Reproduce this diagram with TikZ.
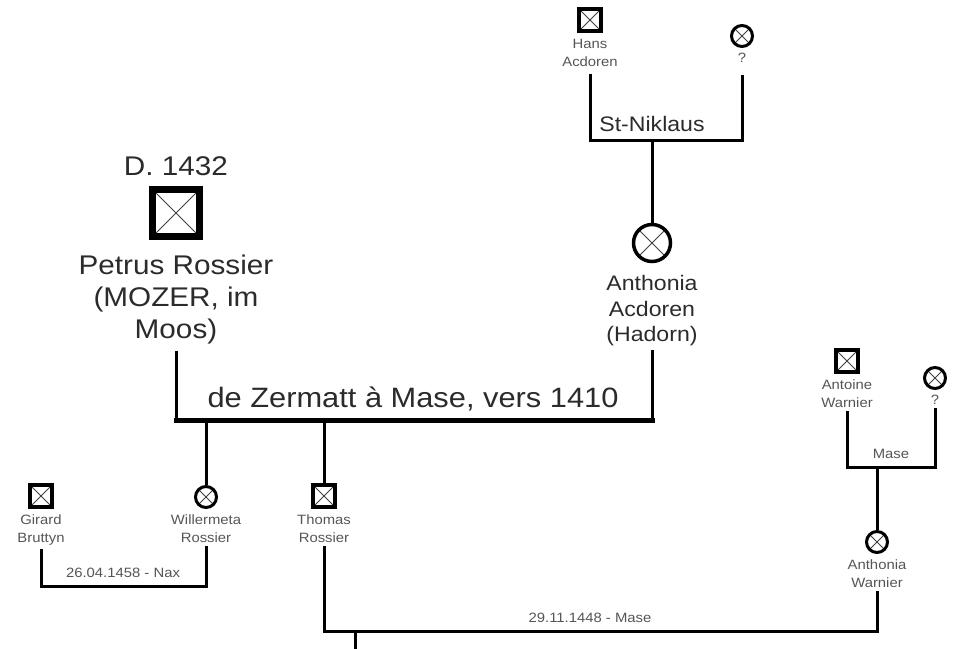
\documentclass[tikz,border=0pt]{standalone}
\usepackage{fontspec}
\setmainfont[FakeStretch=1.1]{Liberation Sans}
\usetikzlibrary{positioning}
\definecolor{lbltext}{HTML}{555555}
\definecolor{bigtext}{HTML}{2B2B2B}

\begin{document}
\begin{tikzpicture}[x=1pt, y=-1pt,
    cross/.style={path picture={\draw[line width=0.8pt, black!75]
        (path picture bounding box.south west) -- (path picture bounding box.north east)
        (path picture bounding box.north west) -- (path picture bounding box.south east);}},
    male/.style={draw, cross, line width=3.8pt, minimum size=22pt, inner sep=0pt},
    malebig/.style={male, line width=6.5pt, minimum size=47pt},
    female/.style={draw, circle, cross, line width=3pt, minimum size=21pt, inner sep=0pt},
    femalebig/.style={female, line width=3.5pt, minimum size=37pt},
    who/.style={align=center, text=lbltext, inner xsep=0pt, inner ysep=3pt,
        font=\fontsize{13.5}{18}\selectfont},
    whomid/.style={align=center, text=bigtext, inner xsep=0pt, inner ysep=4pt,
        font=\fontsize{21}{25.5}\selectfont},
    whobig/.style={align=center, text=bigtext, inner xsep=0pt, inner ysep=7pt,
        font=\fontsize{27}{32}\selectfont},
    place/.style={anchor=base, text=lbltext, font=\fontsize{13.5}{18}\selectfont},
    placemid/.style={anchor=base, text=bigtext, font=\fontsize{21}{25}\selectfont},
    placebig/.style={anchor=base, text=bigtext, font=\fontsize{27}{32}\selectfont},
    link/.style={line width=3pt},
    bus/.style={line width=5pt, line cap=rect}]
    \useasboundingbox (0,0) rectangle (957,648);

    % parents of Anthonia Acdoren
    \node[male] (hans) at (590,20) {};
    \node[who, below=3pt of hans] (hanslbl) {Hans\\Acdoren};
    \node[female] (hansw) at (742,36) {};
    \node[who, below=2pt of hansw] (hanswlbl) {?};
    \coordinate (niklaus) at (652,140);
    \node[placemid] (niklauslbl) at (652,131) {St-Niklaus};
    \draw[link, shorten <=4pt, shorten >=9pt] (hanslbl.south) |- (niklaus) -| (hanswlbl.south);

    % Petrus and Anthonia
    \node[placebig] (death) at (176,175) {D. 1432};
    \node[malebig] (petrus) at (176,213) {};
    \node[whobig, below=8pt of petrus] (petruslbl) {Petrus Rossier\\(MOZER, im\\Moos)};
    \node[femalebig] (anthacd) at (652,243) {};
    \node[whomid, below=8pt of anthacd] (anthacdlbl) {Anthonia\\Acdoren\\(Hadorn)};
    \draw[link] (niklaus) -- (anthacd);

    \coordinate (zermatt) at (413,420);
    \node[placebig, font=\fontsize{28}{32}\selectfont] (zermattlbl) at (413,407) {de Zermatt à Mase, vers 1410};
    \draw[link] (petruslbl.south) -- (petruslbl.south |- zermatt);
    \draw[link] (anthacdlbl.south) -- (anthacdlbl.south |- zermatt);
    \draw[bus] (petruslbl.south |- zermatt) -- (anthacdlbl.south |- zermatt);

    % children
    \node[female] (willer) at (206,497) {};
    \node[who, below=3pt of willer] (willerlbl) {Willermeta\\Rossier};
    \node[male] (thomas) at (324,496) {};
    \node[who, below=3pt of thomas] (thomaslbl) {Thomas\\Rossier};
    \draw[link] (willer |- zermatt) -- (willer);
    \draw[link] (thomas |- zermatt) -- (thomas);

    % Willermeta x Girard
    \node[male] (girard) at (41,496) {};
    \node[who, below=3pt of girard] (girardlbl) {Girard\\Bruttyn};
    \coordinate (nax) at (123,586);
    \node[place] (naxlbl) at (123,577) {26.04.1458 - Nax};
    \draw[link] (girardlbl.south) |- (nax) -| (willerlbl.south);

    % parents of Anthonia Warnier
    \node[male] (antoine) at (847,361) {};
    \node[who, below=3pt of antoine] (antoinelbl) {Antoine\\Warnier};
    \node[female] (antoinew) at (935,378) {};
    \node[who, below=2pt of antoinew] (antoinewlbl) {?};
    \coordinate (mase) at (877,467);
    \node[place] (maselbl) at (891,458) {Mase};
    \draw[link] (antoinelbl.south) |- (mase) -| (antoinewlbl.south);
    \node[female] (anthw) at (877,542) {};
    \node[who, below=3pt of anthw] (anthwlbl) {Anthonia\\Warnier};
    \draw[link] (mase) -- (anthw);

    % Thomas x Anthonia
    \coordinate (thomasmase) at (355,631);
    \node[place] (thomasmaselbl) at (590,622) {29.11.1448 - Mase};
    \draw[link] (thomaslbl.south) |- (thomasmase) -| (anthwlbl.south);
    \coordinate (next) at (355,650);
    \draw[link] (thomasmase) -- (next);
\end{tikzpicture}
\end{document}
